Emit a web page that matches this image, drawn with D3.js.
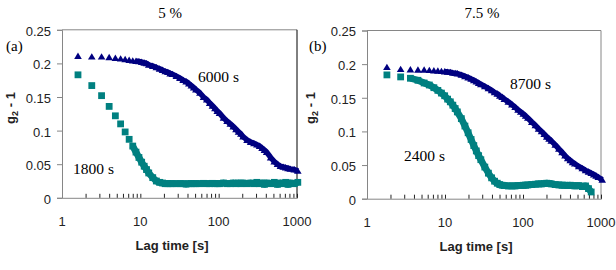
<!DOCTYPE html>
<html>
<head>
<meta charset="utf-8">
<script src="https://cdn.jsdelivr.net/npm/d3@7/dist/d3.min.js"></script>
<style>
	body { margin: 0; background: #fff; }
	svg { display: block; }
</style>
</head>
<body>
<div id="chart"></div>
<script>
// lag times (s) of the correlator, 5 % sample
var lagsA = [1.6, 2.4, 3.2, 4.0, 4.8, 5.6, 6.4, 7.2, 8.0, 8.8, 9.6, 10.4, 11.2, 12.0, 12.8, 14.4, 16.0, 17.6, 19.2, 20.8,
	22.4, 24.0, 25.6, 28.8, 32.0, 35.2, 38.4, 41.6, 44.8, 48.0, 51.2, 57.6, 64.0, 70.4, 76.8, 83.2, 89.6, 96.0, 102.4, 115.2,
	128, 140.8, 153.6, 166.4, 179.2, 192, 204.8, 230.4, 256, 281.6, 307.2, 332.8, 358.4, 384, 409.6, 460.8, 512, 563.2, 614.4, 665.6,
	716.8, 768, 819.2, 921.6, 1024];

// g2 - 1 at 6000 s (triangles) and 1800 s (squares)
var g6000 = [.211, .210, .210, .209, .208, .207, .206, .205, .204, .2035, .203, .202, .201, .200, .198, .196, .194, .192, .190, .188,
	.187, .185, .184, .181, .178, .175, .173, .170, .167, .164, .161, .156, .150, .146, .141, .137, .133, .129, .126, .119,
	.114, .110, .106, .102, .098, .095, .091, .086, .083, .081, .079, .077, .074, .071, .068, .060, .054, .050, .047, .046,
	.045, .044, .043, .042, .040];
var g1800 = [.183, .167, .152, .136, .122, .110, .098, .087, .077, .068, .060, .053, .047, .042, .037, .030, .025, .023, .022, .021,
	.021, .021, .021, .021, .021, .021, .0205, .021, .021, .021, .021, .021, .0215, .021, .021, .0215, .021, .021, .021, .022,
	.021, .021, .022, .021, .022, .021, .022, .021, .022, .021, .023, .021, .022, .020, .022, .021, .023, .020, .022, .021,
	.023, .020, .022, .021, .023];

// lag times (s), 7.5 % sample
var lagsB = [1.8, 2.7, 3.6, 4.5, 5.4, 6.3, 7.2, 8.1, 9.0, 9.9, 10.8, 11.7, 12.6, 13.5, 14.4, 16.2, 18.0, 19.8, 21.6, 23.4,
	25.2, 27.0, 28.8, 32.4, 36.0, 39.6, 43.2, 46.8, 50.4, 54.0, 57.6, 64.8, 72.0, 79.2, 86.4, 93.6, 100.8, 108, 115.2, 129.6,
	144, 158.4, 172.8, 187.2, 201.6, 216, 230.4, 259.2, 288, 316.8, 345.6, 374.4, 403.2, 432, 460.8, 518.4, 576, 633.6, 691.2, 748.8,
	806.4, 864, 921.6, 1036.8];

// g2 - 1 at 8700 s (triangles) and 2400 s (squares)
var g8700 = [.1955, .1925, .192, .1915, .1915, .191, .1905, .190, .1895, .189, .1885, .188, .187, .1865, .186, .184, .182, .180, .178, .176,
	.174, .172, .170, .167, .164, .161, .158, .156, .153, .151, .148, .144, .140, .136, .132, .129, .126, .123, .120, .114,
	.109, .104, .100, .096, .092, .089, .086, .080, .074, .069, .064, .060, .057, .054, .052, .048, .045, .042, .040, .038,
	.036, .034, .032, .028];
var g2400 = [.184, .181, .179, .176, .172, .169, .165, .161, .157, .153, .148, .144, .139, .134, .129, .119, .108, .098, .088, .079,
	.071, .064, .058, .047, .038, .031, .026, .023, .021, .020, .0195, .019, .019, .019, .0195, .0195, .020, .020, .0205, .021,
	.0215, .022, .022, .0225, .023, .0225, .022, .021, .0205, .020, .020, .0195, .020, .0195, .019, .0195, .018, .019, .015, .010];

// axis ticks
var yTicks = [0, 0.05, 0.1, 0.15, 0.2, 0.25];
var yTickLabels = ["0", "0.05", "0.1", "0.15", "0.2", "0.25"];
var xTicks = [1, 10, 100, 1000];
var xTickLabels = ["1", "10", "100", "1000"];

var navy = "#000080",
	teal = "#008080",
	axisGrey = "#868686";

var svg = d3.select("#chart")
	.append("svg")
		.attr("width", 616)
		.attr("height", 270);

function drawPanel(opt) {

	var x = d3.scaleLog()
		.domain([1, 1000])
		.range([opt.left, opt.right]);

	var y = d3.scaleLinear()
		.domain([0, 0.25])
		.range([opt.bottom, opt.top]);

	var g = svg.append("g");

	// frame: top + right
	g.append("line")
		.attr("x1", opt.left).attr("x2", opt.right)
		.attr("y1", opt.top).attr("y2", opt.top)
		.attr("stroke", axisGrey);
	g.append("line")
		.attr("x1", opt.right).attr("x2", opt.right)
		.attr("y1", opt.top).attr("y2", opt.bottom)
		.attr("stroke", opt.rightEdge);

	// y axis
	var yAxisCall = d3.axisLeft(y)
		.tickValues(yTicks)
		.tickSize(5)
		.tickPadding(6)
		.tickFormat(function(d, i){ return yTickLabels[i] });
	var yAxis = g.append("g")
		.attr("transform", "translate(" + opt.left + ",0)")
		.call(yAxisCall);
	yAxis.select(".domain").attr("stroke", axisGrey);
	yAxis.selectAll(".tick line").attr("stroke", axisGrey);
	yAxis.selectAll("text")
		.attr("font-family", "Liberation Sans, Arial, sans-serif")
		.attr("font-size", "13px")
		.attr("fill", "#222")
		.attr("dy", "0.42em");

	// x axis, minor ticks point up into the plot
	var minor = [];
	[1, 10, 100].forEach(function(p){
		for (var k = 2; k <= 10; k++) minor.push(p * k);
	});
	var xAxisCall = d3.axisBottom(x)
		.tickValues(minor)
		.tickSize(-4)
		.tickFormat("");
	var xAxis = g.append("g")
		.attr("transform", "translate(0," + opt.bottom + ")")
		.call(xAxisCall);
	xAxis.select(".domain").attr("stroke", axisGrey);
	xAxis.selectAll(".tick line").attr("stroke", "#222");

	g.selectAll(".xlab")
		.data(xTicks)
		.enter()
		.append("text")
			.attr("class", "xlab")
			.attr("x", function(d){ return x(d) })
			.attr("y", opt.bottom + 28)
			.attr("text-anchor", "middle")
			.attr("font-family", "Liberation Sans, Arial, sans-serif")
			.attr("font-size", "13px")
			.attr("fill", "#222")
			.text(function(d, i){ return xTickLabels[i] });

	// x label
	g.append("text")
		.attr("x", opt.xLabelX)
		.attr("y", opt.bottom + 52)
		.attr("text-anchor", "middle")
		.attr("font-family", "Liberation Sans, Arial, sans-serif")
		.attr("font-weight", "bold")
		.attr("font-size", "13px")
		.attr("fill", "#222")
		.text("Lag time [s]");

	// y label
	var yl = g.append("text")
		.attr("transform", "translate(" + opt.yLabelX + "," + 108 + ") rotate(-90)")
		.attr("text-anchor", "middle")
		.attr("font-family", "Liberation Sans, Arial, sans-serif")
		.attr("font-weight", "bold")
		.attr("font-size", "13px")
		.attr("fill", "#222");
	yl.append("tspan").text("g");
	yl.append("tspan").attr("font-size", "9px").attr("dy", "3").text("2");
	yl.append("tspan").attr("dy", "-3").text(" - 1");

	// the markers overlap into a solid band where lags get dense
	var band = d3.line()
		.x(function(d){ return x(d[0]) })
		.y(function(d){ return y(d[1]) });
	function pairs(vals, from) {
		return vals.map(function(v, i){ return [opt.lags[i], v] }).slice(from);
	}

	// squares (earlier time)
	var sq = 6.8;
	g.append("path")
		.attr("d", band(pairs(opt.squares, opt.sqDense)))
		.attr("fill", "none")
		.attr("stroke", teal)
		.attr("stroke-width", 6.8)
		.attr("stroke-linejoin", "round");
	g.selectAll(".sq")
		.data(opt.squares)
		.enter()
		.append("rect")
			.attr("class", "sq")
			.attr("x", function(d, i){ return x(opt.lags[i]) - sq / 2 })
			.attr("y", function(d){ return y(d) - sq / 2 })
			.attr("width", sq)
			.attr("height", sq)
			.attr("fill", teal);

	// triangles (later time)
	g.append("path")
		.attr("d", band(pairs(opt.triangles, opt.triDense)))
		.attr("fill", "none")
		.attr("stroke", navy)
		.attr("stroke-width", 5.5)
		.attr("stroke-linejoin", "round");
	g.selectAll(".tri")
		.data(opt.triangles)
		.enter()
		.append("path")
			.attr("class", "tri")
			.attr("d", "M0,-3.5L3.8,2.9L-3.8,2.9Z")
			.attr("transform", function(d, i){ return "translate(" + x(opt.lags[i]) + "," + y(d) + ")" })
			.attr("fill", navy);

	// title + labels (Times)
	var serif = "Liberation Serif, Times New Roman, serif";
	g.append("text")
		.attr("x", opt.titleX).attr("y", 18)
		.attr("text-anchor", "middle")
		.attr("font-family", serif).attr("font-size", "15px")
		.text(opt.title);
	g.append("text")
		.attr("x", opt.tagX).attr("y", 51)
		.attr("font-family", serif).attr("font-size", "15px")
		.text(opt.tag);
	opt.notes.forEach(function(n){
		g.append("text")
			.attr("x", n[0]).attr("y", n[1])
			.attr("font-family", serif).attr("font-size", "15.5px")
			.text(n[2]);
	});
}

drawPanel({
	left: 62, right: 297, top: 29.8, bottom: 197.8,
	rightEdge: "#000",
	lags: lagsA, triangles: g6000, squares: g1800,
	sqDense: 8, triDense: 9,
	title: "5 %", titleX: 170, tag: "(a)", tagX: 6,
	xLabelX: 172, yLabelX: 15,
	notes: [[198, 82, "6000 s"], [73, 174, "1800 s"]]
});

drawPanel({
	left: 367, right: 601, top: 30.5, bottom: 198.7,
	rightEdge: axisGrey,
	lags: lagsB, triangles: g8700, squares: g2400,
	sqDense: 2, triDense: 9,
	title: "7.5 %", titleX: 482, tag: "(b)", tagX: 309,
	xLabelX: 476, yLabelX: 315,
	notes: [[510, 89, "8700 s"], [404, 161, "2400 s"]]
});
</script>
</body>
</html>
